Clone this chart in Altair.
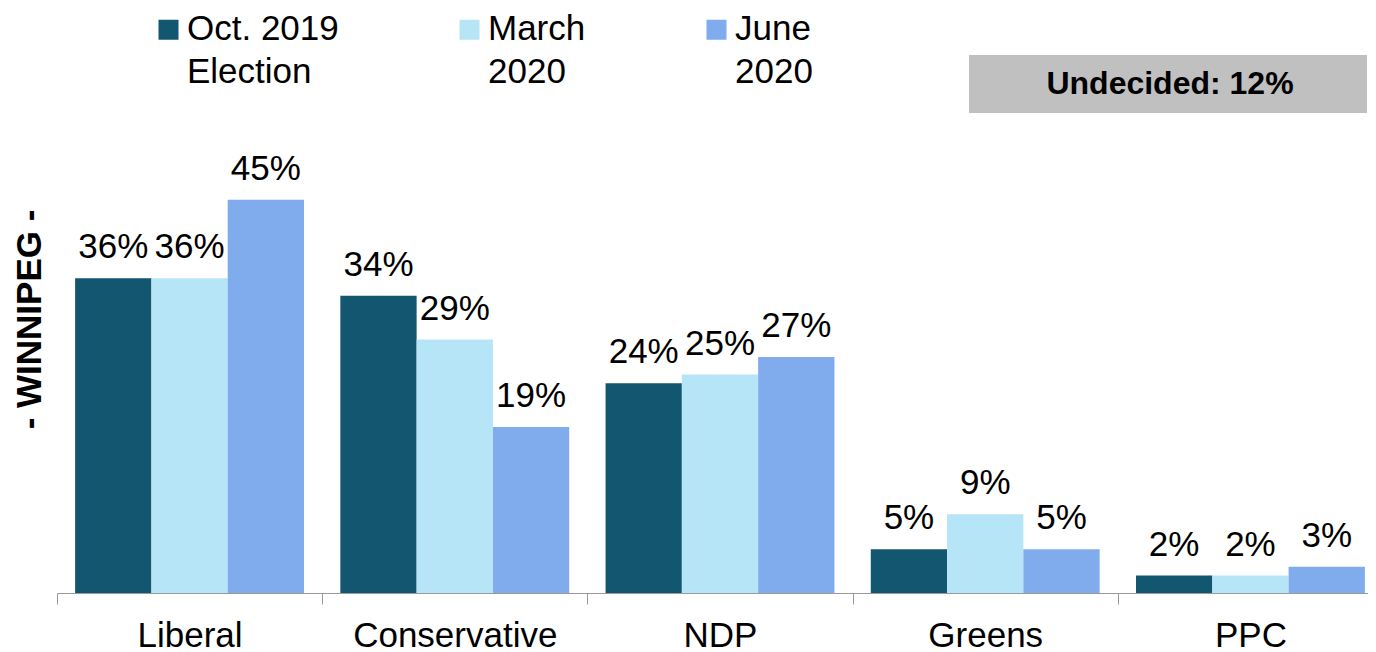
import altair as alt
import pandas as pd

parties = ["Liberal", "Conservative", "NDP", "Greens", "PPC"]
series = ["Oct. 2019 Election", "March 2020", "June 2020"]
oct2019 = [36, 34, 24, 5, 2]
march2020 = [36, 29, 25, 9, 2]
june2020 = [45, 19, 27, 5, 3]
colors = ["#13566F", "#B6E5F7", "#80ABED"]
undecided = [12]

rows = []
for s, vals in zip(series, [oct2019, march2020, june2020]):
    for p, v in zip(parties, vals):
        rows.append({"party": p, "series": s, "value": v, "label": f"{v}%"})
df = pd.DataFrame(rows)

FONT = "Liberation Sans"

x = alt.X(
    "party:N", sort=parties, title=None,
    scale=alt.Scale(paddingInner=0.137, paddingOuter=0.0683, range=[0, 1326]),
    axis=alt.Axis(labelFontSize=35, labelColor="black", labelFont=FONT, labelAngle=0,
                  labelPadding=14, tickSize=11, tickOffset=-132.6, labelOffset=132.6,
                  tickColor="#9a9a9a", domainColor="#9a9a9a", labelBaseline="top",
                  labelLimit=0),
)
y = alt.Y(
    "value:Q", scale=alt.Scale(domain=[0, 50], nice=False),
    axis=alt.Axis(title="- WINNIPEG -", labels=False, ticks=False, domain=False, grid=False,
                  titleFontSize=35, titleFontWeight="bold", titleFont=FONT, titleColor="black",
                  titleAngle=270, titleX=-28, titleY=163, titleAlign="center",
                  titleBaseline="middle"),
)
color = alt.Color(
    "series:N", sort=series, scale=alt.Scale(domain=series, range=colors),
    legend=alt.Legend(title=None, orient="none", legendX=94, legendY=-133.5,
                      direction="horizontal", columns=3,
                      symbolType="M-1,-2.05H1V-0.05H-1Z",
                      symbolSize=400, symbolStrokeWidth=0, labelFontSize=35,
                      labelFont=FONT, labelColor="black", labelOffset=1,
                      columnPadding=113, labelLimit=0, labelBaseline="alphabetic",
                      labelExpr="datum.label == 'Oct. 2019 Election' ? ['Oct. 2019', 'Election'] : split(datum.label, ' ')"),
)
xoff = alt.XOffset("series:N", sort=series, scale=alt.Scale(paddingInner=0, paddingOuter=0))

base = alt.Chart(df)
bars = base.mark_bar().encode(x=x, y=y, color=color, xOffset=xoff)
labels = base.mark_text(baseline="alphabetic", dy=-20, fontSize=35, font=FONT, color="black").encode(
    x=x, y=y, xOffset=xoff, text="label:N")

und_df = pd.DataFrame({"text": [f"Undecided: {undecided[0]}%"]})
box = alt.Chart(und_df).mark_rect(color="#C0C0C0").encode(
    x=alt.value(912), x2=alt.value(1310), y=alt.value(-101), y2=alt.value(-43))
boxtext = alt.Chart(und_df).mark_text(fontSize=32, fontWeight="bold", font=FONT, color="black",
                                      baseline="middle").encode(
    x=alt.value(1113), y=alt.value(-72), text="text:N")

chart = alt.layer(bars, labels, box, boxtext).properties(
    width=1311, height=437,
    autosize=alt.AutoSizeParams(type="none"),
    padding={"left": 49, "top": 148, "right": 0, "bottom": 59},
).configure(style={"guide-label": {"lineHeight": 43}}).configure_view(stroke=None)

chart.save("out.html", embed_options={"renderer": "svg", "actions": False})
